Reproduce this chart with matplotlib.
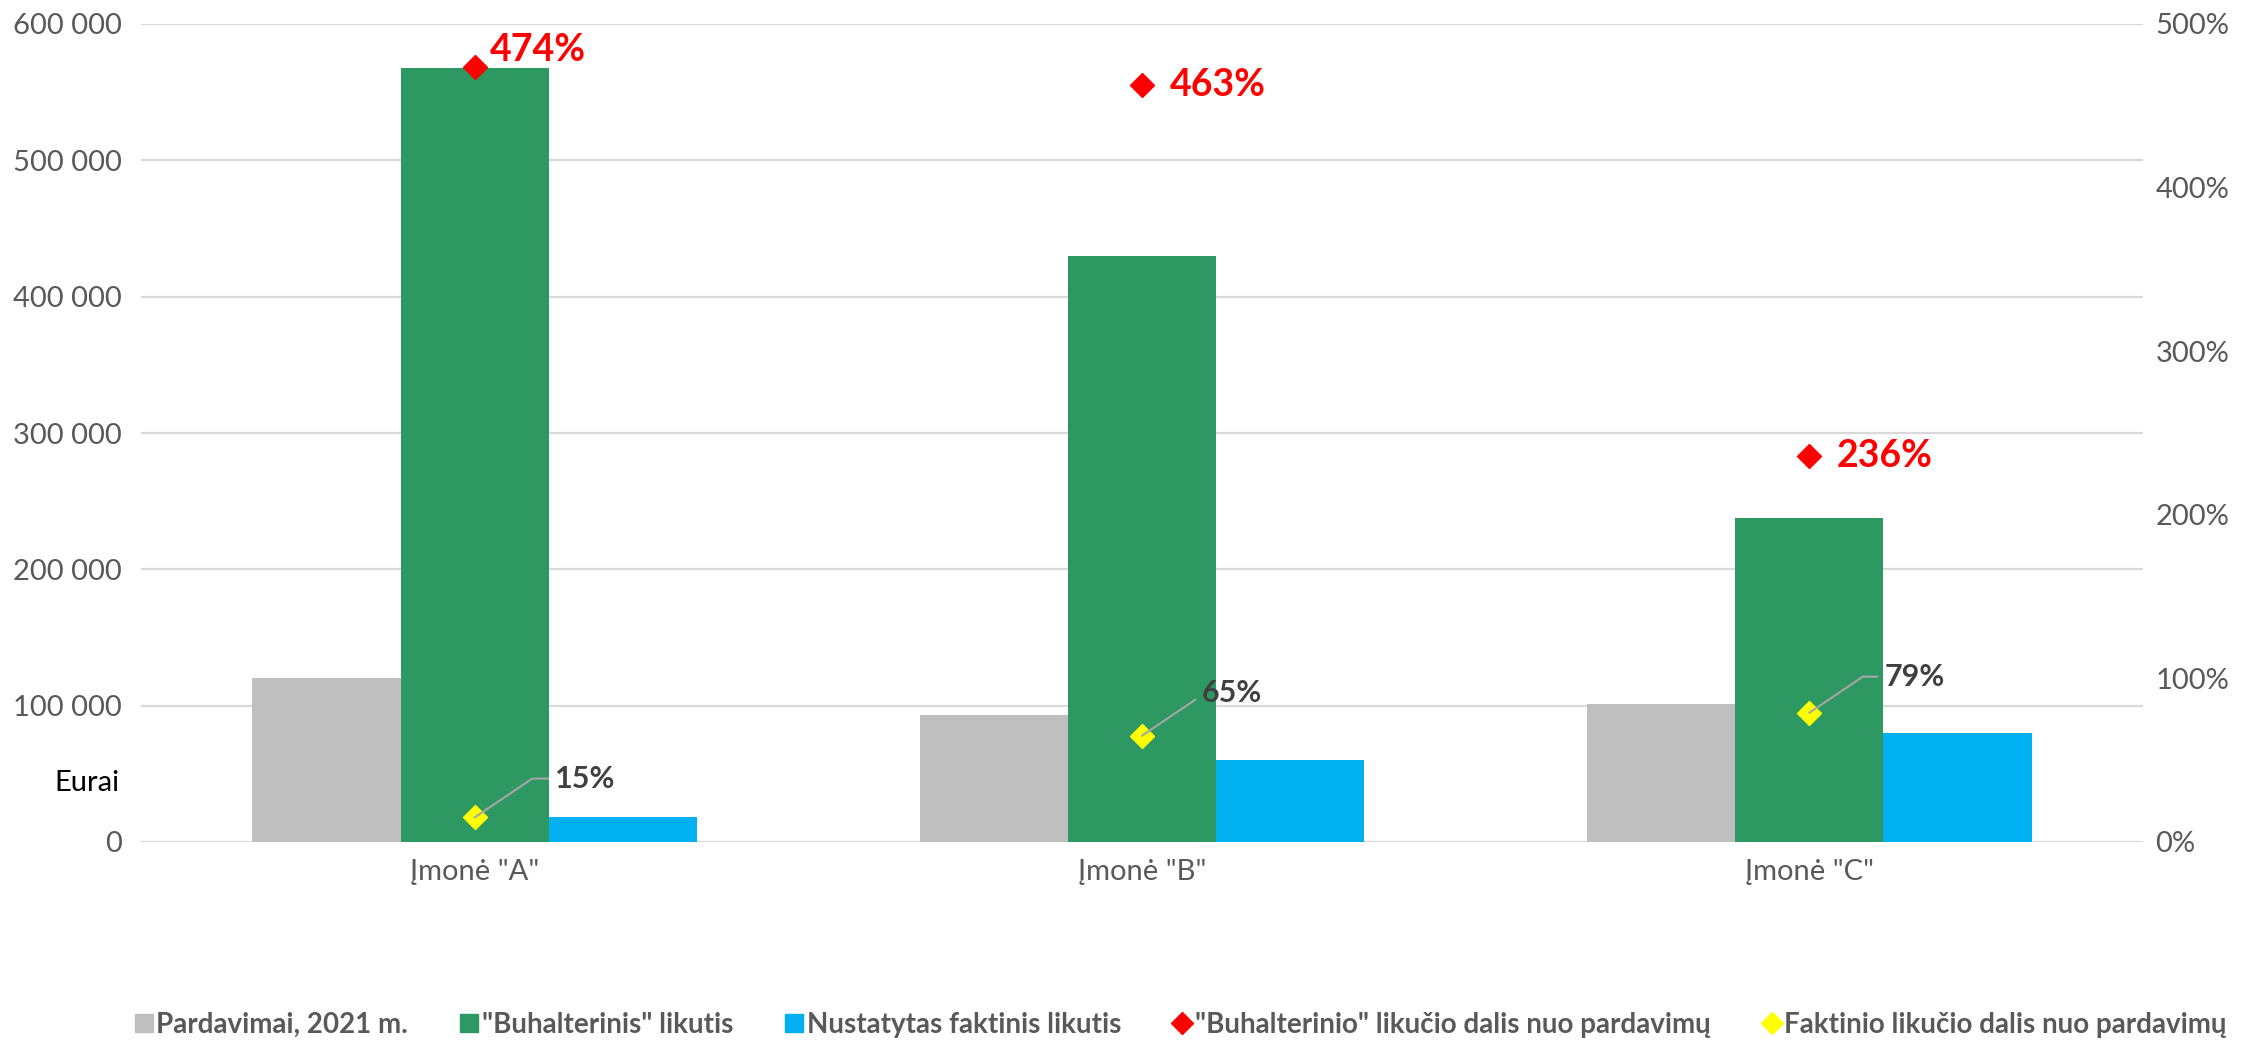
import matplotlib
matplotlib.use("Agg")
import matplotlib.pyplot as plt
import numpy as np
from matplotlib.lines import Line2D

# ---- data ----
categories = ['Įmonė "A"', 'Įmonė "B"', 'Įmonė "C"']
sales_2021 = [120000, 93000, 101000]
book_balance = [568000, 430000, 238000]
actual_balance = [18000, 60500, 80000]
book_share = [474, 463, 236]      # %
actual_share = [15, 65, 79]       # %
left_ticks = [0, 100000, 200000, 300000, 400000, 500000, 600000]
right_ticks = [0, 100, 200, 300, 400, 500]
series_names = ['Pardavimai, 2021 m.', '"Buhalterinis" likutis', 'Nustatytas faktinis likutis',
                '"Buhalterinio" likučio dalis nuo pardavimų', 'Faktinio likučio dalis nuo pardavimų']

C_GRAY = '#BFBFBF'
C_GREEN = '#2E9863'
C_BLUE = '#00B0F0'
C_RED = '#FF0000'
C_YEL = '#FFFF00'
C_TXT = '#595959'
C_GRID = '#D9D9D9'

FONT = ['Lato', 'DejaVu Sans']
plt.rcParams['font.family'] = FONT

fig = plt.figure(figsize=(22.41, 10.40), dpi=100)
ax = fig.add_axes([141/2241, 1-842/1040, (2143-141)/2241, (842-24)/1040])
ax2 = ax.twinx()

x = np.arange(len(categories))
w = 0.222
ax.bar(x - w, sales_2021, w, color=C_GRAY, zorder=2)
ax.bar(x, book_balance, w, color=C_GREEN, zorder=2)
ax.bar(x + w, actual_balance, w, color=C_BLUE, zorder=2)

ax.set_xlim(-0.5, len(categories) - 0.5)
ax.set_ylim(0, 600000)
ax.set_yticks(left_ticks)
ax.set_yticklabels([f"{v:,}".replace(",", " ") for v in left_ticks])
ax.set_xticks(x)
ax.set_xticklabels(categories)
ax.grid(axis='y', color=C_GRID, linewidth=1.6, zorder=0)
ax.set_axisbelow(True)
for s in ax.spines.values():
    s.set_visible(False)
for s in ax2.spines.values():
    s.set_visible(False)
ax.tick_params(axis='y', length=0, pad=14, labelsize=21, labelcolor=C_TXT)
ax.tick_params(axis='x', length=0, pad=12, labelsize=21, labelcolor=C_TXT)

ax2.set_ylim(0, 500)
ax2.set_yticks(right_ticks)
ax2.set_yticklabels([f"{v}%" for v in right_ticks])
ax2.tick_params(axis='y', length=0, pad=9, labelsize=21, labelcolor=C_TXT)

ax2.plot(x, book_share, linestyle='none', marker='D', markersize=12, color=C_RED, zorder=5)
ax2.plot(x, actual_share, linestyle='none', marker='D', markersize=12, color=C_YEL, zorder=5)

red_offsets = [(11, 12), (20, 0), (20, 0)]
for xi, v, off in zip(x, book_share, red_offsets):
    ax2.annotate(f"{v}%", (xi, v), xytext=off, textcoords='offset points',
                 ha='left', va='center', color=C_RED, fontsize=27, fontweight='bold')

yel_offsets = [(58, 28), (43, 31), (54, 26)]
for xi, v, off in zip(x, actual_share, yel_offsets):
    ax2.annotate(f"{v}%", (xi, v), xytext=off, textcoords='offset points',
                 ha='left', va='center', color='#404040', fontsize=22, fontweight='bold',
                 arrowprops=dict(arrowstyle='-', color='#A6A6A6', lw=1.5,
                                 connectionstyle='angle,angleA=0,angleB=34,rad=0',
                                 relpos=(0, 0.5), shrinkA=3, shrinkB=0),
                 zorder=6)

fig.text(54/2241, 1-783/1040, 'Eurai', fontsize=21, color='black', va='center', ha='left')

handles = [
    Line2D([], [], linestyle='none', marker='s', markersize=13, color=C_GRAY),
    Line2D([], [], linestyle='none', marker='s', markersize=13, color=C_GREEN),
    Line2D([], [], linestyle='none', marker='s', markersize=13, color=C_BLUE),
    Line2D([], [], linestyle='none', marker='D', markersize=11, color=C_RED),
    Line2D([], [], linestyle='none', marker='D', markersize=11, color=C_YEL),
]
leg = fig.legend(handles, series_names, loc='center', bbox_to_anchor=(0.527, 1-1025/1040),
                 ncol=5, frameon=False, handlelength=0.6, handletextpad=0.15,
                 columnspacing=1.9, prop={'family': FONT, 'size': 20, 'weight': 'bold'})
for t in leg.get_texts():
    t.set_color(C_TXT)

fig.savefig('out.png', dpi=100)
